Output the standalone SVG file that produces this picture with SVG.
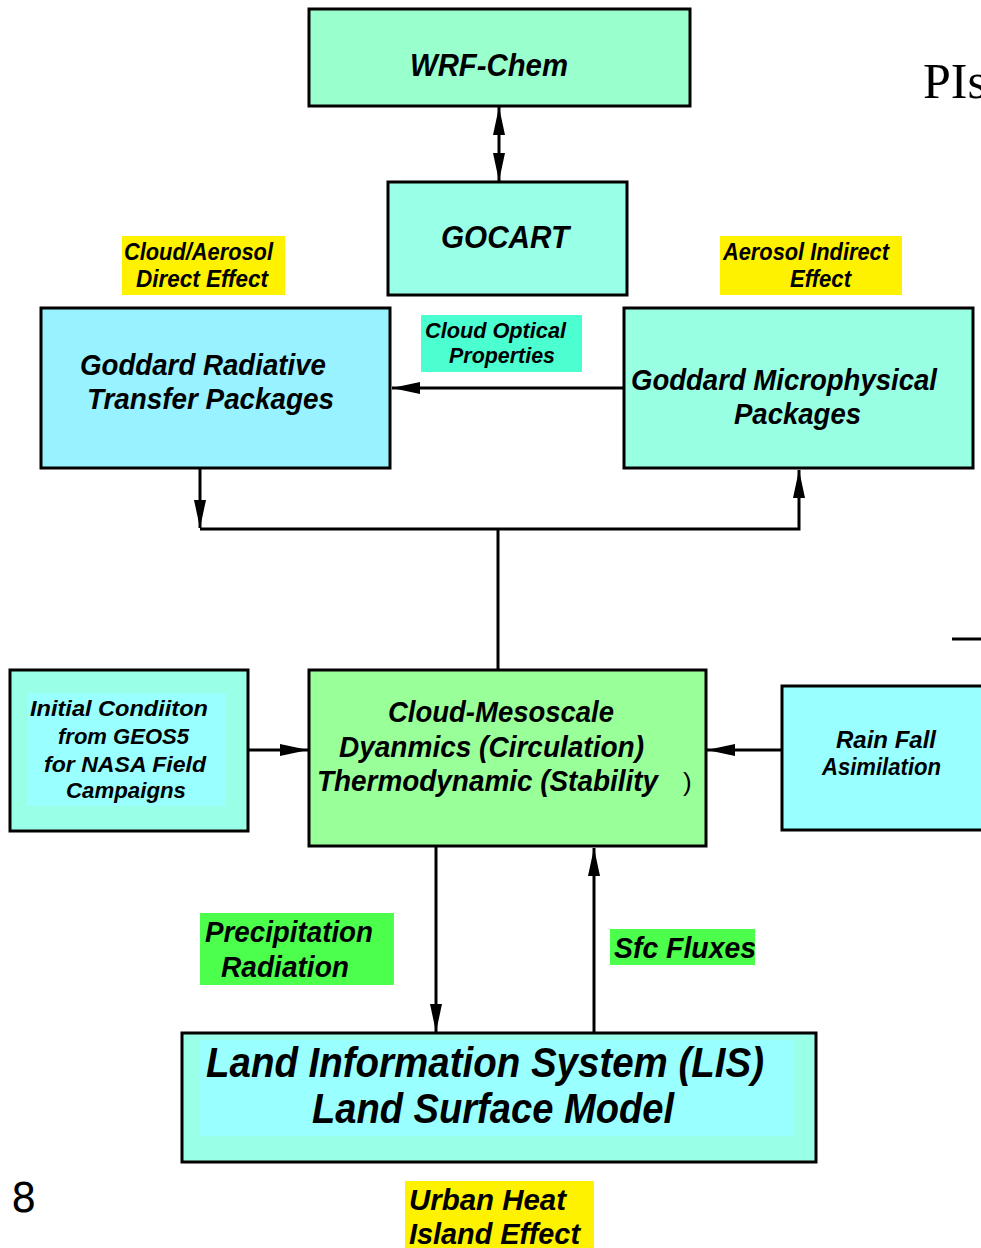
<svg xmlns="http://www.w3.org/2000/svg" width="981" height="1248" viewBox="0 0 981 1248">
<style>
.box{stroke:#000;stroke-width:3}
.t{font-family:"Liberation Sans Narrow","Liberation Sans",Arial,sans-serif;font-weight:bold;font-style:italic;fill:#000}
.c{stroke:#000;stroke-width:3;fill:none}
</style>
<defs>
<marker id="ah" markerWidth="28" markerHeight="12" refX="28" refY="6" orient="auto-start-reverse" markerUnits="userSpaceOnUse"><path d="M0,0 L28,6 L0,12 Z" fill="#000"/></marker>
</defs>
<rect width="981" height="1248" fill="#fff"/>

<g id="connectors">
<line class="c" x1="499" y1="107" x2="499" y2="181" marker-start="url(#ah)" marker-end="url(#ah)"/>
<line class="c" x1="624" y1="388" x2="392" y2="388" marker-end="url(#ah)"/>
<line class="c" x1="200" y1="466" x2="200" y2="528" marker-end="url(#ah)"/>
<polyline class="c" points="200,529 799,529 799,470" marker-end="url(#ah)"/>
<line class="c" x1="498" y1="529" x2="498" y2="670"/>
<line class="c" x1="248" y1="750" x2="308" y2="750" marker-end="url(#ah)"/>
<line class="c" x1="782" y1="750" x2="707" y2="750" marker-end="url(#ah)"/>
<line class="c" x1="436" y1="847" x2="436" y2="1032" marker-end="url(#ah)"/>
<line class="c" x1="594" y1="1033" x2="594" y2="848" marker-end="url(#ah)"/>
</g>

<g id="wrf-chem">
<rect class="box" x="309" y="9" width="381" height="97" fill="#99FFCC"/>
<text class="t" x="410" y="76" font-size="31" textLength="158" lengthAdjust="spacingAndGlyphs">WRF-Chem</text>
</g>

<g id="gocart">
<rect class="box" x="388" y="182" width="239" height="113" fill="#99FFE6"/>
<text class="t" x="441" y="248" font-size="31" textLength="128" lengthAdjust="spacingAndGlyphs">GOCART</text>
</g>

<g id="label-direct">
<rect x="122" y="236" width="163" height="59" fill="#FFF200"/>
<text class="t" x="124" y="260" font-size="23" textLength="149" lengthAdjust="spacingAndGlyphs">Cloud/Aerosol</text>
<text class="t" x="136" y="287" font-size="23" textLength="132" lengthAdjust="spacingAndGlyphs">Direct Effect</text>
</g>

<g id="label-indirect">
<rect x="720" y="236" width="182" height="59" fill="#FFF200"/>
<text class="t" x="723" y="260" font-size="23" textLength="166" lengthAdjust="spacingAndGlyphs">Aerosol Indirect</text>
<text class="t" x="790" y="287" font-size="23" textLength="61" lengthAdjust="spacingAndGlyphs">Effect</text>
</g>

<g id="radiative">
<rect class="box" x="41" y="308" width="349" height="160" fill="#99F2FF"/>
<text class="t" x="80" y="375" font-size="30" textLength="246" lengthAdjust="spacingAndGlyphs">Goddard Radiative</text>
<text class="t" x="87" y="409" font-size="30" textLength="247" lengthAdjust="spacingAndGlyphs">Transfer Packages</text>
</g>

<g id="label-optical">
<rect x="421" y="315" width="161" height="57" fill="#4CFFD0"/>
<text class="t" x="425" y="338" font-size="22" textLength="141" lengthAdjust="spacingAndGlyphs">Cloud Optical</text>
<text class="t" x="449" y="363" font-size="22" textLength="106" lengthAdjust="spacingAndGlyphs">Properties</text>
</g>

<g id="microphysical">
<rect class="box" x="624" y="308" width="349" height="160" fill="#99FFE3"/>
<text class="t" x="631" y="390" font-size="30" textLength="306" lengthAdjust="spacingAndGlyphs">Goddard Microphysical</text>
<text class="t" x="734" y="424" font-size="30" textLength="127" lengthAdjust="spacingAndGlyphs">Packages</text>
</g>

<g id="initial-condition">
<rect class="box" x="10" y="670" width="238" height="161" fill="#99FFE6"/>
<rect x="27" y="693" width="199" height="113" fill="#99FFFF"/>
<text class="t" x="30" y="716" font-size="22" textLength="178" lengthAdjust="spacingAndGlyphs">Initial  Condiiton</text>
<text class="t" x="58" y="744" font-size="22" textLength="131" lengthAdjust="spacingAndGlyphs">from GEOS5</text>
<text class="t" x="44" y="772" font-size="22" textLength="162" lengthAdjust="spacingAndGlyphs">for NASA Field</text>
<text class="t" x="66" y="798" font-size="22" textLength="120" lengthAdjust="spacingAndGlyphs">Campaigns</text>
</g>

<g id="mesoscale">
<rect class="box" x="309" y="670" width="397" height="176" fill="#99FF99"/>
<text class="t" x="388" y="722" font-size="30" textLength="226" lengthAdjust="spacingAndGlyphs">Cloud-Mesoscale</text>
<text class="t" x="339" y="757" font-size="30" textLength="305" lengthAdjust="spacingAndGlyphs">Dyanmics (Circulation)</text>
<text class="t" x="317" y="791" font-size="30" textLength="341" lengthAdjust="spacingAndGlyphs">Thermodynamic (Stability</text>
<text x="683" y="791" font-family="Liberation Sans,Arial,sans-serif" font-size="26">)</text>
</g>

<g id="rainfall">
<rect class="box" x="782" y="686" width="205" height="144" fill="#99FFFF"/>
<text class="t" x="836" y="748" font-size="23" textLength="100" lengthAdjust="spacingAndGlyphs">Rain Fall</text>
<text class="t" x="822" y="775" font-size="23" textLength="119" lengthAdjust="spacingAndGlyphs">Asimilation</text>
</g>

<g id="label-precip">
<rect x="200" y="913" width="194" height="72" fill="#4DFF4D"/>
<text class="t" x="205" y="942" font-size="30" textLength="168" lengthAdjust="spacingAndGlyphs">Precipitation</text>
<text class="t" x="221" y="977" font-size="30" textLength="128" lengthAdjust="spacingAndGlyphs">Radiation</text>
</g>

<g id="label-sfc">
<rect x="610" y="929" width="145" height="36" fill="#4DFF4D"/>
<text class="t" x="614" y="958" font-size="30" textLength="142" lengthAdjust="spacingAndGlyphs">Sfc Fluxes</text>
</g>

<g id="lis">
<rect class="box" x="182" y="1033" width="634" height="129" fill="#99FFE6"/>
<rect x="200" y="1040" width="594" height="96" fill="#99FFFF"/>
<text class="t" x="206" y="1077" font-size="42" textLength="558" lengthAdjust="spacingAndGlyphs">Land Information System (LIS)</text>
<text class="t" x="312" y="1123" font-size="42" textLength="362" lengthAdjust="spacingAndGlyphs">Land Surface Model</text>
</g>

<g id="label-urban">
<rect x="405" y="1181" width="189" height="67" fill="#FFF200"/>
<text class="t" x="409" y="1210" font-size="30" textLength="157" lengthAdjust="spacingAndGlyphs">Urban Heat</text>
<text class="t" x="409" y="1244" font-size="30" textLength="171" lengthAdjust="spacingAndGlyphs">Island Effect</text>
</g>

<g id="page-extras">
<text x="923" y="98" font-family="Liberation Serif,Times New Roman,serif" font-size="50">PIs</text>
<line x1="952" y1="639" x2="981" y2="639" stroke="#000" stroke-width="3"/>
<text x="11" y="1212" font-family="DejaVu Sans,sans-serif" font-size="40">8</text>
</g>
</svg>
